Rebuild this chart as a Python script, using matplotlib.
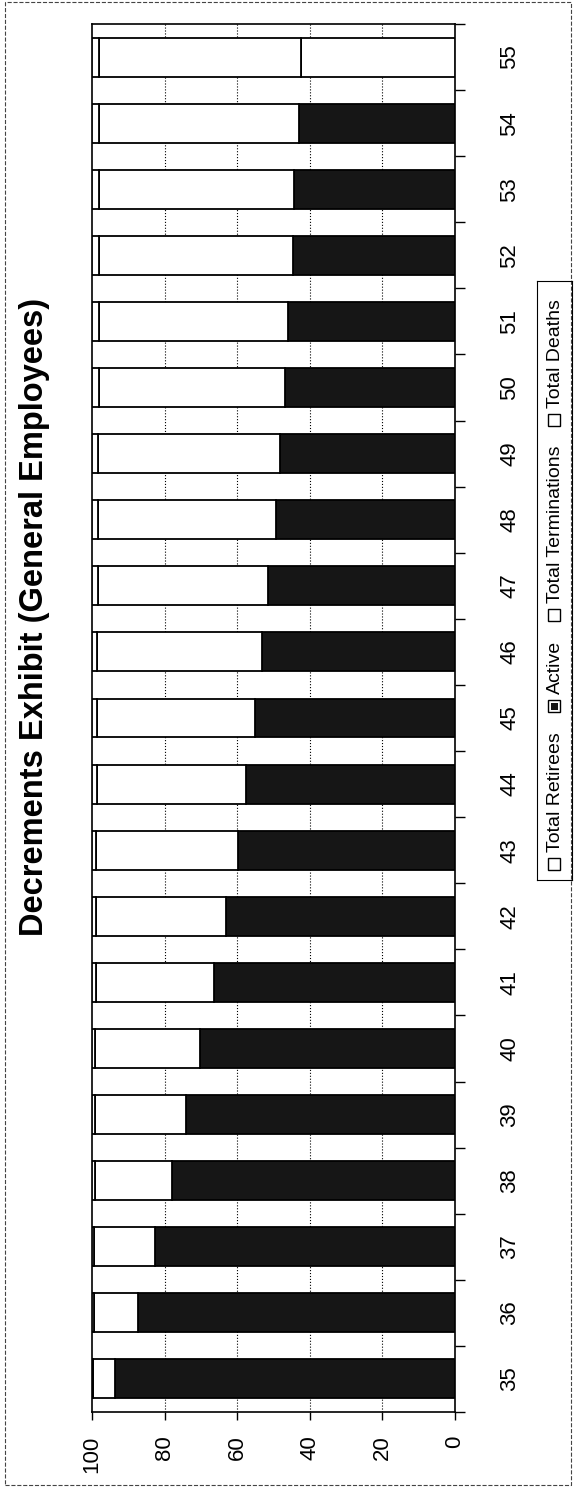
import matplotlib
matplotlib.use("Agg")
import matplotlib.pyplot as plt
from matplotlib.patches import Rectangle
import numpy as np

plt.rcParams["font.family"] = ["Liberation Sans", "DejaVu Sans"]

# stacked decrements by age, percent of starting cohort
ages = [35, 36, 37, 38, 39, 40, 41, 42, 43, 44, 45, 46, 47, 48, 49, 50, 51, 52, 53, 54, 55]
total_retirees = [0, 0, 0, 0, 0, 0, 0, 0, 0, 0, 0, 0, 0, 0, 0, 0, 0, 0, 0, 0, 42.5]
active = [93.7, 87.4, 82.6, 78.0, 74.2, 70.2, 66.5, 63.1, 59.9, 57.6, 55.1,
          53.1, 51.5, 49.4, 48.2, 46.8, 46.0, 44.6, 44.3, 43.0, 0.0]
total_terminations = [5.9, 12.1, 16.8, 21.3, 25.0, 28.9, 32.5, 35.8, 38.9, 41.1, 43.5,
                      45.4, 46.9, 48.9, 50.1, 51.4, 52.2, 53.5, 53.8, 55.0, 55.5]
total_deaths = [0.4, 0.5, 0.6, 0.7, 0.8, 0.9, 1.0, 1.1, 1.2, 1.3, 1.4,
                1.5, 1.6, 1.7, 1.7, 1.8, 1.8, 1.9, 1.9, 2.0, 2.0]
series_names = ["Total Retirees", "Active", "Total Terminations", "Total Deaths"]
value_ticks = [0, 20, 40, 60, 80, 100]

W, H = 574, 1489
DARK = "#161616"


def fx(x):
    return x / W


def fy(y):
    return 1 - y / H


fig = plt.figure(figsize=(W / 100, H / 100), dpi=100)
ax = fig.add_axes([fx(92), fy(1412), fx(455) - fx(92), fy(24) - fy(1412)])

# chart is drawn turned on its side: values run right->left, ages bottom->top
y = np.array(ages, dtype=float)
bw = 0.59
left = np.zeros(len(ages))
colors = ["white", DARK, "white", "white"]
for vals, col in zip([total_retirees, active, total_terminations, total_deaths], colors):
    vals = np.asarray(vals, dtype=float)
    ax.barh(y, vals, left=left, height=bw, color=col, edgecolor="black",
            linewidth=1.3, zorder=3)
    left = left + vals

ax.set_xlim(100, 0)
ax.set_ylim(34.52, 55.46)

for v in value_ticks[1:-1]:
    ax.axvline(v, color="black", linestyle=":", linewidth=0.8, zorder=1)

ax.set_xticks(value_ticks)
ax.set_xticklabels([str(v) for v in value_ticks], rotation=90, fontsize=16)
ax.tick_params(axis="x", direction="out", length=6, width=1, pad=11)

ax.yaxis.tick_right()
ax.set_yticks(ages)
ax.set_yticklabels([str(a) for a in ages], rotation=90, va="center", fontsize=16)
ax.set_yticks(np.arange(34.5, 56, 1.0), minor=True)
ax.tick_params(axis="y", which="major", length=0, pad=32)
ax.tick_params(axis="y", which="minor", direction="out", length=7, width=1)

for s in ax.spines.values():
    s.set_linewidth(1.2)
    s.set_color("black")

fig.text(fx(35), fy(617), "Decrements Exhibit (General Employees)", rotation=90,
         ha="center", va="center", fontsize=23.5, fontweight="bold")

# legend, turned on its side like the rest of the chart; laid out bottom -> top
renderer = fig.canvas.get_renderer()
lx = 554
box = 12
cur = 870  # pixel y of the lowest legend box edge
for name, col in zip(series_names, colors):
    fig.patches.append(Rectangle((fx(lx - box / 2), fy(cur)), fx(box), fy(0) - fy(box),
                                 transform=fig.transFigure, facecolor="white",
                                 edgecolor="black", linewidth=1))
    if col != "white":
        fig.patches.append(Rectangle((fx(lx - 3.5), fy(cur - 2.5)), fx(7), fy(0) - fy(7),
                                     transform=fig.transFigure, facecolor=col,
                                     edgecolor="none"))
    cur -= box + 6
    t = fig.text(fx(lx + 1), fy(cur), name, rotation=90, ha="center", va="bottom",
                 fontsize=14)
    cur -= t.get_window_extent(renderer).height + 20

# legend frame and outer chart border
for xs, ys in [([537, 537], [281, 880]), ([572, 572], [281, 880]),
               ([537, 572], [281, 281]), ([537, 572], [880, 880])]:
    fig.add_artist(plt.Line2D([fx(v) for v in xs], [fy(v) for v in ys],
                              color="black", lw=0.8))
fig.patches.append(Rectangle((fx(5), fy(1485)), fx(W - 8), fy(2) - fy(1485),
                             transform=fig.transFigure, facecolor="none",
                             edgecolor="#444444", linewidth=0.8, linestyle="--"))

fig.savefig("out.png", dpi=100)
